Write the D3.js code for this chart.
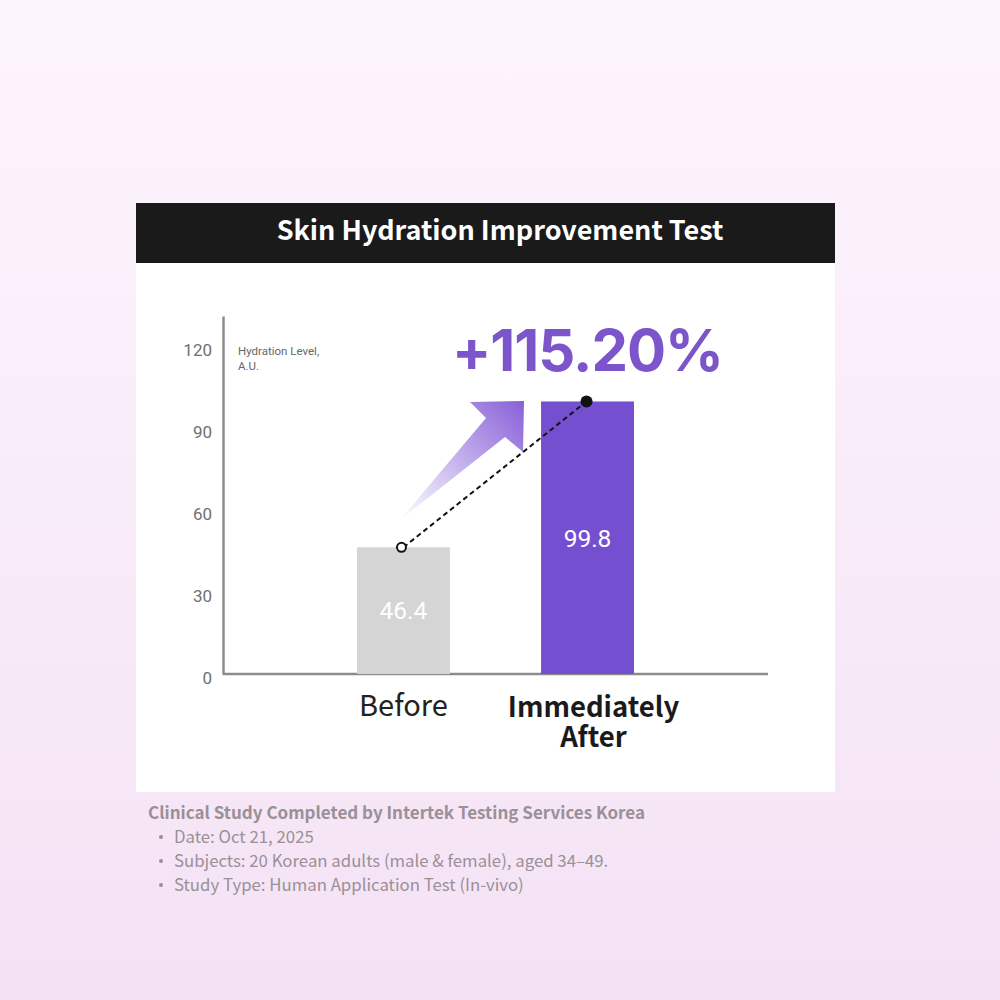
<!DOCTYPE html>
<html><head><meta charset="utf-8">
<script src="https://cdn.jsdelivr.net/npm/d3@7"></script>
<style>html,body{margin:0;padding:0;}svg{display:block;}</style>
</head><body>
<script>
const categories = ["Before", "Immediately After"];
const values = [46.4, 99.8];
const yTicks = [0, 30, 60, 90, 120];
const titleText = "Skin Hydration Improvement Test";
const changeLabel = "+115.20%";
const yAxisLabel = ["Hydration Level,", "A.U."];
const footerTitle = "Clinical Study Completed by Intertek Testing Services Korea";
const footerItems = ["Date: Oct 21, 2025", "Subjects: 20 Korean adults (male & female), aged 34–49.", "Study Type: Human Application Test (In-vivo)"];

const W = 1000, H = 1000;
const svg = d3.select("body").append("svg").attr("width", W).attr("height", H);
const defs = svg.append("defs");
const bg = defs.append("linearGradient").attr("id","bg").attr("x1",0).attr("y1",0).attr("x2",0).attr("y2",1);
bg.append("stop").attr("offset","0%").attr("stop-color","#fdf5fd");
bg.append("stop").attr("offset","100%").attr("stop-color","#f4e2f4");
const ag = defs.append("linearGradient").attr("id","ag").attr("gradientUnits","userSpaceOnUse")
  .attr("x1",400).attr("y1",520).attr("x2",525).attr("y2",405);
ag.append("stop").attr("offset","0%").attr("stop-color","#ffffff").attr("stop-opacity",1);
ag.append("stop").attr("offset","100%").attr("stop-color","#8a62d9");

svg.append("rect").attr("width",W).attr("height",H).attr("fill","url(#bg)");
// card
svg.append("rect").attr("x",136).attr("y",263).attr("width",699).attr("height",529).attr("fill","#ffffff");
svg.append("rect").attr("x",136).attr("y",203).attr("width",699).attr("height",60).attr("fill","#1a1a1a");
svg.append("text").attr("x",500).attr("y",240).attr("text-anchor","middle")
  .attr("font-family","'Noto Sans CJK KR','Noto Sans',sans-serif").attr("font-weight",700)
  .attr("font-size",27).attr("fill","#ffffff").text(titleText);

// scales
const y = d3.scaleLinear().domain([0, 131.1]).range([674, 316]);
const x = d3.scaleBand().domain(categories).range([311, 680]).paddingInner(0.495).paddingOuter(0.25);

// axes
const g = svg.append("g");
const yAxis = d3.axisLeft(y).tickValues(yTicks).tickSize(0).tickPadding(11);
const ya = g.append("g").attr("transform","translate(223,0)").call(yAxis);
ya.select(".domain").attr("stroke","#8c8c8c").attr("stroke-width",2.5);
ya.selectAll("text").attr("font-family","Roboto,'Noto Sans',sans-serif").attr("font-size",17)
  .attr("fill","#707070").attr("dy","0.55em");
g.append("line").attr("x1",223).attr("x2",768).attr("y1",y(0)).attr("y2",y(0))
  .attr("stroke","#8c8c8c").attr("stroke-width",2.5);

g.selectAll("text.yl").data(yAxisLabel).join("text").attr("class","yl")
  .attr("x",238).attr("y",(d,i)=>355+i*15).attr("font-family","Roboto,'Noto Sans',sans-serif")
  .attr("font-size",11.5).attr("fill","#666").text(d=>d);

// bars
const colors = ["#d5d5d5", "#7450d0"];
g.selectAll("rect.bar").data(values).join("rect").attr("class","bar")
  .attr("x",(d,i)=>x(categories[i])).attr("width",x.bandwidth())
  .attr("y",d=>y(d)).attr("height",d=>y(0)-y(d)).attr("fill",(d,i)=>colors[i]);
g.selectAll("text.val").data(values).join("text").attr("class","val")
  .attr("x",(d,i)=>x(categories[i])+x.bandwidth()/2).attr("y",d=>(y(d)+y(0))/2)
  .attr("dy","0.36em").attr("text-anchor","middle").attr("font-family","Roboto,'Noto Sans',sans-serif")
  .attr("font-weight",400).attr("font-size",24.5).attr("fill","#ffffff").text(d=>d.toFixed(1));

// gradient arrow
const cx0 = x(categories[0])+x.bandwidth()/2, cx1 = x(categories[1])+x.bandwidth()/2;
svg.append("path").attr("d","M400,520 L486,418 L470,402 L524,401 L523,452 L505,437 Z")
  .attr("fill","url(#ag)");

// dashed connector
svg.append("line").attr("x1",cx0).attr("y1",y(values[0])).attr("x2",cx1-1).attr("y2",y(values[1]))
  .attr("stroke","#111").attr("stroke-width",2).attr("stroke-dasharray","5,3.5");
svg.append("circle").attr("cx",cx0-2).attr("cy",y(values[0])).attr("r",4.5)
  .attr("fill","#fff").attr("stroke","#111").attr("stroke-width",2);
svg.append("circle").attr("cx",cx1-1).attr("cy",y(values[1])).attr("r",6).attr("fill","#111");

// change label
svg.append("text").attr("x",cx1).attr("y",371).attr("text-anchor","middle")
  .attr("font-family","Inter,Roboto,sans-serif").attr("font-weight",700).attr("font-size",58)
  .attr("fill","#7b55c9").attr("letter-spacing",-1).text(changeLabel);

// category labels
svg.append("text").attr("x",cx0).attr("y",716).attr("text-anchor","middle")
  .attr("font-family","'Noto Sans CJK KR','Noto Sans',sans-serif").attr("font-size",29)
  .attr("fill","#222").text(categories[0]);
const lab2 = svg.append("text").attr("x",cx1+6).attr("y",717).attr("text-anchor","middle")
  .attr("font-family","'Noto Sans CJK KR','Noto Sans',sans-serif").attr("font-weight",700).attr("font-size",27.5)
  .attr("fill","#1a1a1a");
lab2.append("tspan").attr("x",cx1+6).text("Immediately");
lab2.append("tspan").attr("x",cx1+6).attr("dy",30).text("After");

// footer
svg.append("text").attr("x",148).attr("y",819).attr("font-family","'Noto Sans CJK KR','Noto Sans',sans-serif")
  .attr("font-weight",700).attr("font-size",17).attr("fill","#9a9097").text(footerTitle);
svg.selectAll("circle.bul").data(footerItems).join("circle").attr("class","bul")
  .attr("cx",161).attr("cy",(d,i)=>837+i*24).attr("r",2).attr("fill","#9a9097");
svg.selectAll("text.fi").data(footerItems).join("text").attr("class","fi")
  .attr("x",174).attr("y",(d,i)=>843+i*24).attr("font-family","'Noto Sans CJK KR','Noto Sans',sans-serif")
  .attr("font-size",16.8).attr("fill","#9a9097").text(d=>d);
</script>
</body></html>
